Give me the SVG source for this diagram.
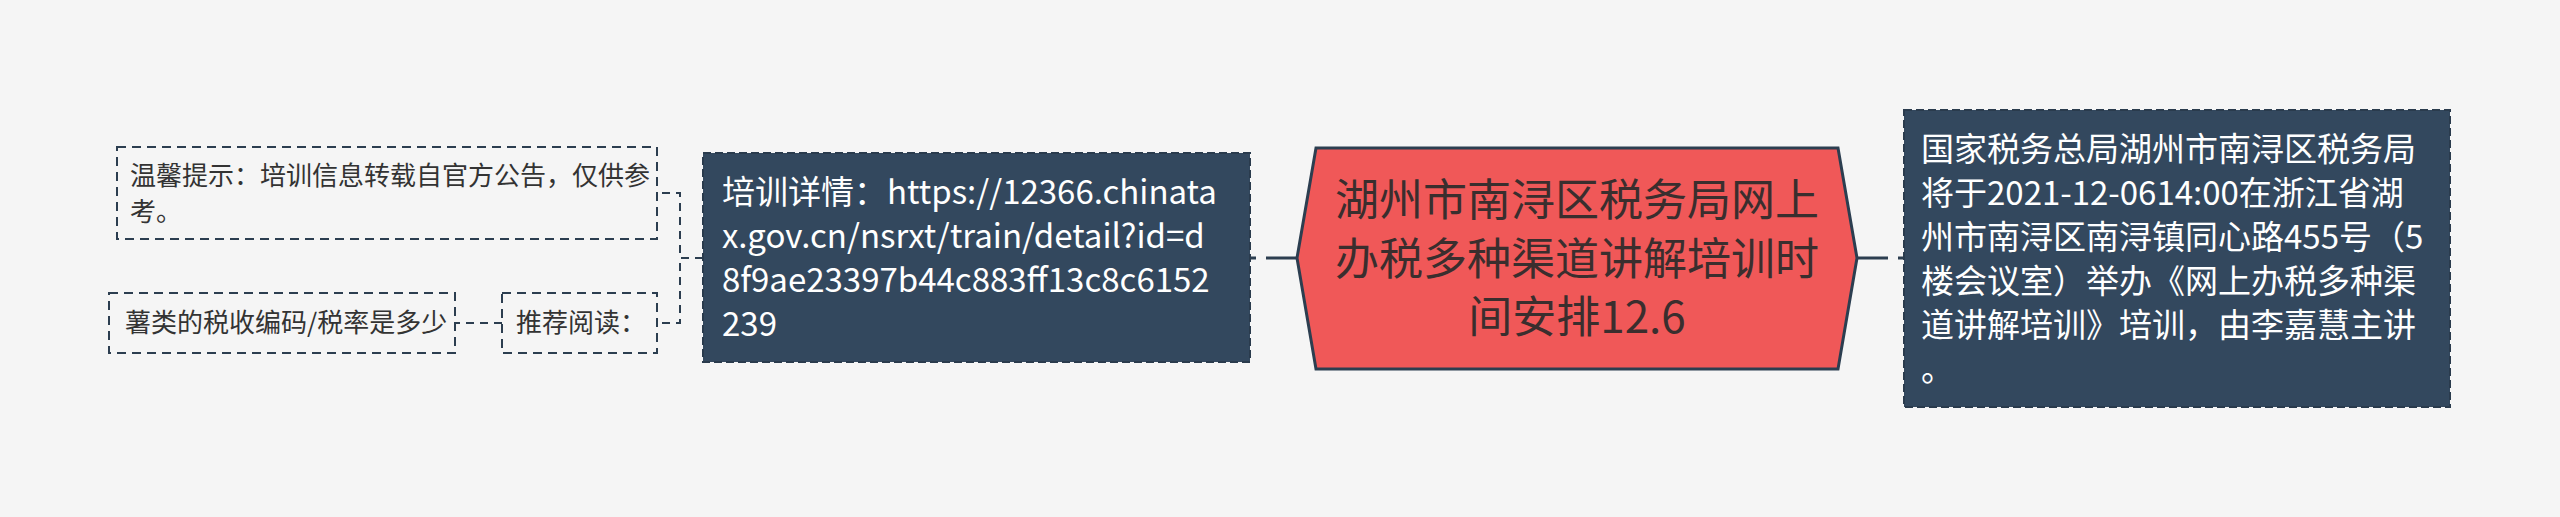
<svg xmlns="http://www.w3.org/2000/svg" width="2560" height="517" viewBox="0 0 2560 517">
<style>
.t{font-family:"Noto Sans CJK SC","Microsoft YaHei",sans-serif;}
.dark rect{fill:#33485E;stroke:#2A3B4D;stroke-width:2;stroke-dasharray:8 4;}
.dark text{fill:#FFFFFF;font-size:33px;}
.light rect{fill:#F5F5F5;stroke:#2C3E50;stroke-width:2;stroke-dasharray:9 6;}
.light text{fill:#333333;font-size:26px;}
.conn{fill:none;stroke:#2C3E50;}
.main{stroke-width:3;stroke-dasharray:31 10;}
.sub{stroke-width:2;stroke-dasharray:8 6;}
</style>
<rect x="0" y="0" width="2560" height="517" fill="#F5F5F5"/>
<g id="connectors">
<path class="conn main" d="M1297 258 H1250"/>
<path class="conn main" d="M1857 258 H1904"/>
<path class="conn sub" d="M703 258 H680 V193 H657"/>
<path class="conn sub" d="M703 258 H680 V323 H657"/>
<path class="conn sub" d="M502 323 H455"/>
</g>
<g id="center">
<polygon points="1297,258 1316,148 1838,148 1857,258 1838,369 1316,369" fill="#F05858" stroke="#2C3E50" stroke-width="3"/>
<text class="t" x="1577" text-anchor="middle" font-size="44" fill="#3A2E2E"><tspan x="1577" y="216">湖州市南浔区税务局网上</tspan><tspan x="1577" y="275">办税多种渠道讲解培训时</tspan><tspan x="1577" y="333">间安排12.6</tspan></text>
</g>
<g id="detail" class="dark">
<rect x="703" y="153" width="547" height="209"/>
<text class="t"><tspan x="722" y="204">培训详情：https://12366.chinata</tspan><tspan x="722" y="248">x.gov.cn/nsrxt/train/detail?id=d</tspan><tspan x="722" y="292">8f9ae23397b44c883ff13c8c6152</tspan><tspan x="722" y="336">239</tspan></text>
</g>
<g id="info" class="dark">
<rect x="1904" y="110" width="546" height="297"/>
<text class="t"><tspan x="1921" y="161">国家税务总局湖州市南浔区税务局</tspan><tspan x="1921" y="205">将于2021-12-0614:00在浙江省湖</tspan><tspan x="1921" y="249">州市南浔区南浔镇同心路455号（5</tspan><tspan x="1921" y="293">楼会议室）举办《网上办税多种渠</tspan><tspan x="1921" y="337">道讲解培训》培训，由李嘉慧主讲</tspan><tspan x="1921" y="381">。</tspan></text>
</g>
<g id="tip" class="light">
<rect x="117" y="147" width="540" height="92"/>
<text class="t"><tspan x="130" y="185">温馨提示：培训信息转载自官方公告，仅供参</tspan><tspan x="130" y="221">考。</tspan></text>
</g>
<g id="recommend" class="light">
<rect x="502" y="293" width="155" height="60"/>
<text class="t" x="516" y="332">推荐阅读：</text>
</g>
<g id="article" class="light">
<rect x="109" y="293" width="346" height="60"/>
<text class="t" x="125" y="332">薯类的税收编码/税率是多少</text>
</g>
</svg>
